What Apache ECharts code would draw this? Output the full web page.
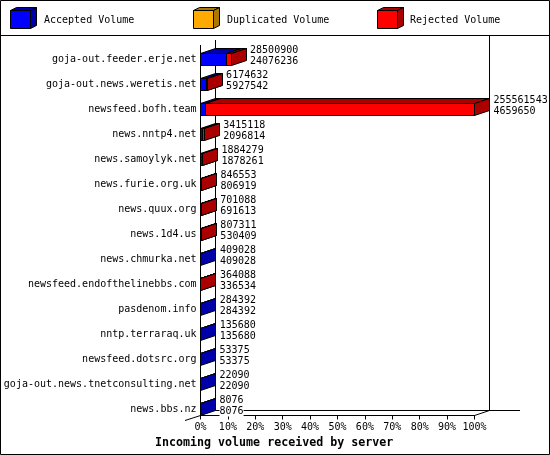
<!DOCTYPE html>
<html>
<head>
<meta charset="utf-8">
<style>html,body{margin:0;padding:0;background:#fff}#c{width:550px;height:455px}</style>
<script src="https://cdn.jsdelivr.net/npm/echarts@6/dist/echarts.min.js"></script>
</head>
<body>
<div id="c"></div>
<script>
const categories = ["goja-out.feeder.erje.net","goja-out.news.weretis.net","newsfeed.bofh.team","news.nntp4.net","news.samoylyk.net","news.furie.org.uk","news.quux.org","news.1d4.us","news.chmurka.net","newsfeed.endofthelinebbs.com","pasdenom.info","nntp.terraraq.uk","newsfeed.dotsrc.org","goja-out.news.tnetconsulting.net","news.bbs.nz"];
const totalVolume = [28500900,6174632,255561543,3415118,1884279,846553,701088,807311,409028,364088,284392,135680,53375,22090,8076];
const acceptedVolume = [24076236,5927542,4659650,2096814,1878261,806919,691613,530409,409028,336534,284392,135680,53375,22090,8076];
const legendNames = ["Accepted Volume","Duplicated Volume","Rejected Volume"];
const axisTitle = "Incoming volume received by server";

const MONO = '"DejaVu Sans Mono", monospace';
const DX = 15, DY = 5;
const BLUE = ['#0000ff','#0000aa'], ORANGE = ['#ffaa00','#aa7700'], RED = ['#ff0000','#aa0000'];
const scale = Math.max(...totalVolume);
const snap = v => Math.round(v - 0.5) + 0.5;
const line = { stroke:'#000', lineWidth:1, fill:null };

function poly(points, fill) {
  return { type:'polygon', shape:{ points }, style:{ fill, stroke:'#000', lineWidth:1 } };
}
function box(x0, x1, y0, y1, dx, dy, col) {
  return [
    poly([[x0,y0],[x0+dx,y0-dy],[x1+dx,y0-dy],[x1,y0]], col[1]),
    poly([[x1,y0],[x1+dx,y0-dy],[x1+dx,y1-dy],[x1,y1]], col[1]),
    poly([[x0,y0],[x1,y0],[x1,y1],[x0,y1]], col[0])
  ];
}
function barItem(col, startIdx, endIdx) {
  return function (params, api) {
    const a = api.value(startIdx), b = api.value(endIdx);
    if (b - a <= 0) return { type:'group', children:[] };
    const i = api.value(0);
    const p0 = api.coord([a, i]), p1 = api.coord([b, i]);
    const h = 12;
    const y0 = snap(p0[1] - h/2), y1 = y0 + h;
    return { type:'group', children: box(snap(p0[0]), snap(p1[0]), y0, y1, DX, DY, col) };
  };
}
function labelItem(params, api) {
  const i = api.value(0);
  const p = api.coord([api.value(2), i]);
  const x = p[0] + DX + 4;
  const t = (txt, y) => ({ type:'text', style:{ x, y, text:txt, font:'10px '+MONO, fill:'#000',
      textAlign:'left', textVerticalAlign:'middle', backgroundColor:'#fff' } });
  return { type:'group', children:[ t(String(api.value(3)), p[1]-9.5), t(String(api.value(4)), p[1]+2) ] };
}

const rows = categories.map((c,i)=>[i, 0, acceptedVolume[i]/scale*100, totalVolume[i]/scale*100, totalVolume[i], acceptedVolume[i]]);
const barRows = rows.map(r=>[r[0], r[1], r[2], r[3]]);
const labelRows = rows.map(r=>[r[0], 0, r[3], r[4], r[5]]);

const frame = [
  [[0.5,35.5],[549.5,35.5]],
  [[200.5,45],[200.5,416]],
  [[215.5,40],[215.5,410.5]],
  [[489.5,35.5],[489.5,410.5]],
  [[215.5,410.5],[520,410.5]],
  [[474.5,415.5],[489.5,410.5]],
  [[185,420.5],[200.5,415.5]],
  [[200.5,415.5],[474.5,415.5]]
];
const graphics = [
  { type:'rect', silent:true, z:-10, shape:{x:0.5,y:0.5,width:549,height:454}, style:{fill:'#fff',stroke:'#000',lineWidth:1} }
];
frame.forEach(s=>graphics.push({ type:'polyline', silent:true, z:-5, shape:{points:s}, style:line }));
[[10.5,BLUE,44],[193.5,ORANGE,227],[377.5,RED,410]].forEach((l,i)=>{
  graphics.push({ type:'group', silent:true, children: box(l[0], l[0]+20, 10.5, 28.5, 6, 3, l[1]) });
  graphics.push({ type:'text', silent:true, style:{ x:l[2], y:20, text:legendNames[i], font:'10px '+MONO, fill:'#000', textVerticalAlign:'middle' } });
});

const chart = echarts.init(document.getElementById('c'), null, { renderer:'canvas', width:550, height:455 });
chart.setOption({
  animation:false,
  backgroundColor:'#fff',
  title:{ text:axisTitle, left:155, top:437, padding:0, textStyle:{ fontFamily:MONO, fontSize:11.65, fontWeight:'bold', color:'#000' } },
  grid:{ left:200.5, top:47, width:274, height:375, containLabel:false },
  xAxis:{ type:'value', min:0, max:100, interval:10, offset:-6.5, position:'bottom',
    splitLine:{show:false}, axisLine:{show:true,onZero:false,lineStyle:{color:'#000',width:1}},
    axisTick:{show:true,inside:false,length:4,lineStyle:{color:'#000',width:1}},
    axisLabel:{ formatter:'{value}%', margin:7, fontFamily:MONO, fontSize:10, color:'#000', showMinLabel:true, showMaxLabel:true, hideOverlap:false }
  },
  yAxis:{ type:'category', inverse:true, data:categories, axisLine:{show:false}, axisTick:{show:false}, splitLine:{show:false},
    axisLabel:{ margin:4, fontFamily:MONO, fontSize:10, color:'#000', interval:0 }
  },
  graphic:{ elements:graphics },
  series:[
    { type:'custom', name:legendNames[0], z:3, clip:false, renderItem:barItem(BLUE,1,2), data:barRows, encode:{x:2,y:0} },
    { type:'custom', name:legendNames[2], z:4, clip:false, renderItem:barItem(RED,2,3), data:barRows, encode:{x:3,y:0} },
    { type:'custom', name:'labels', z:5, clip:false, renderItem:labelItem, data:labelRows, encode:{x:2,y:0} }
  ]
});
</script>
</body>
</html>
